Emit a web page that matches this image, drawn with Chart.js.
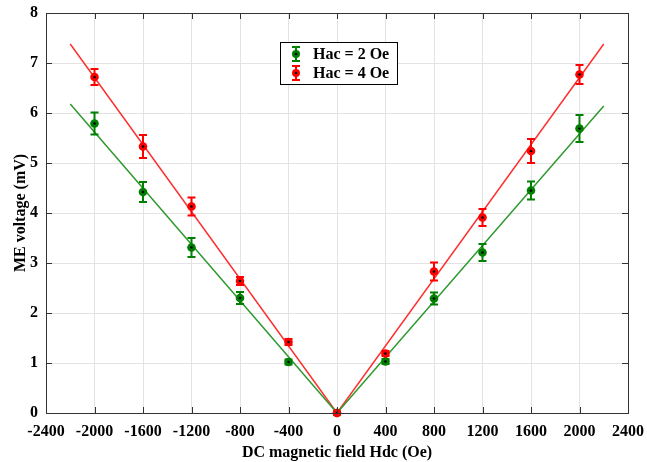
<!DOCTYPE html>
<html>
<head>
<meta charset="utf-8">
<script src="https://cdn.jsdelivr.net/npm/chart.js@4.4.1/dist/chart.umd.min.js"></script>
<style>
  html, body { margin: 0; padding: 0; background: #fff; }
  #wrap { width: 647px; height: 462px; }
</style>
</head>
<body>
<div id="wrap"><canvas id="meChart"></canvas></div>
<script>
// ------------------------------
// Data.
const fieldHdc = [-2000, -1600, -1200, -800, -400, 0, 400, 800, 1200, 1600, 2000];
const hac2Volt = [5.79, 4.42, 3.31, 2.30, 1.02, 0, 1.03, 2.29, 3.21, 4.45, 5.69];
const hac2Err  = [0.22, 0.20, 0.19, 0.12, 0.05, 0.03, 0.05, 0.12, 0.17, 0.18, 0.27];
const hac4Volt = [6.72, 5.33, 4.13, 2.64, 1.42, 0, 1.19, 2.83, 3.91, 5.24, 6.77];
const hac4Err  = [0.16, 0.23, 0.18, 0.08, 0.06, 0.03, 0.05, 0.18, 0.17, 0.24, 0.19];

// Linear fits (V shape)
const fitX = [-2200, 0, 2200];
const fit2Y = [6.18, 0, 6.14];
const fit4Y = [7.38, 0, 7.38];

const xTicks = [-2400, -2000, -1600, -1200, -800, -400, 0, 400, 800, 1200, 1600, 2000, 2400];
const yTicks = [0, 1, 2, 3, 4, 5, 6, 7, 8];

const green = '#008000';
const red = '#ff0000';
const fontFamily = '"Liberation Serif", "Times New Roman", serif';

function toPoints(xs, ys) {
  return xs.map(function(x, i) { return { x: x, y: ys[i] }; });
}

// ------------------------------
// Plugin: error bars, box, inward ticks and legend.
const errorBarPlugin = {
  id: 'errorBarPlugin',
  afterDatasetsDraw: function(chart) {
    const ctx = chart.ctx;
    const yScale = chart.scales.y;
    chart.data.datasets.forEach(function(ds, di) {
      if (!ds.errors) return;
      const meta = chart.getDatasetMeta(di);
      meta.data.forEach(function(pt, i) {
        const v = ds.data[i].y;
        const top = yScale.getPixelForValue(v + ds.errors[i]);
        const bot = yScale.getPixelForValue(v - ds.errors[i]);
        ctx.save();
        ctx.strokeStyle = ds.borderColor;
        ctx.lineWidth = 2;
        ctx.beginPath();
        ctx.moveTo(pt.x, top); ctx.lineTo(pt.x, bot);
        ctx.moveTo(pt.x - 4, top); ctx.lineTo(pt.x + 4, top);
        ctx.moveTo(pt.x - 4, bot); ctx.lineTo(pt.x + 4, bot);
        ctx.stroke();
        ctx.fillStyle = ds.borderColor;
        ctx.beginPath();
        ctx.arc(pt.x, pt.y, 4.3, 0, Math.PI * 2);
        ctx.fill();
        ctx.fillStyle = '#000';
        ctx.beginPath();
        ctx.arc(pt.x, pt.y, 1.3, 0, Math.PI * 2);
        ctx.fill();
        ctx.restore();
      });
    });
  },
  afterDraw: function(chart) {
    const ctx = chart.ctx;
    const a = chart.chartArea;
    const xs = chart.scales.x, ys = chart.scales.y;
    ctx.save();
    ctx.strokeStyle = '#333';
    ctx.lineWidth = 1;
    ctx.strokeRect(Math.round(a.left) + 0.5, Math.round(a.top) + 0.5,
      Math.round(a.right - a.left), Math.round(a.bottom - a.top));
    ctx.beginPath();
    xTicks.forEach(function(t) {
      const px = Math.round(xs.getPixelForValue(t)) + 0.5;
      ctx.moveTo(px, a.bottom); ctx.lineTo(px, a.bottom - 6);
      ctx.moveTo(px, a.top); ctx.lineTo(px, a.top + 6);
    });
    yTicks.forEach(function(t) {
      const py = Math.round(ys.getPixelForValue(t)) + 0.5;
      ctx.moveTo(a.left, py); ctx.lineTo(a.left + 6, py);
      ctx.moveTo(a.right, py); ctx.lineTo(a.right - 6, py);
    });
    ctx.stroke();

    // Legend box
    const lx = 280, ly = 42, lw = 117, lh = 42;
    ctx.fillStyle = '#fff';
    ctx.fillRect(lx, ly, lw, lh);
    ctx.strokeStyle = '#000';
    ctx.strokeRect(lx + 0.5, ly + 0.5, lw, lh);
    const items = [{ c: green, t: 'Hac = 2 Oe', y: 54 }, { c: red, t: 'Hac = 4 Oe', y: 73 }];
    items.forEach(function(it) {
      const cx = 296;
      ctx.strokeStyle = it.c;
      ctx.lineWidth = 2;
      ctx.beginPath();
      ctx.moveTo(cx, it.y - 7); ctx.lineTo(cx, it.y + 7);
      ctx.moveTo(cx - 4, it.y - 7); ctx.lineTo(cx + 4, it.y - 7);
      ctx.moveTo(cx - 4, it.y + 7); ctx.lineTo(cx + 4, it.y + 7);
      ctx.stroke();
      ctx.fillStyle = it.c;
      ctx.beginPath(); ctx.arc(cx, it.y, 4, 0, Math.PI * 2); ctx.fill();
      ctx.fillStyle = '#000';
      ctx.beginPath(); ctx.arc(cx, it.y, 1.3, 0, Math.PI * 2); ctx.fill();
      ctx.font = 'bold 16px ' + fontFamily;
      ctx.textBaseline = 'middle';
      ctx.textAlign = 'left';
      ctx.fillText(it.t, 313, it.y + 1);
    });
    ctx.restore();
  }
};

// ------------------------------
// Build chart.
const ctx = document.getElementById('meChart').getContext('2d');
new Chart(ctx, {
  type: 'scatter',
  data: {
    datasets: [
      {
        label: 'fit 2',
        data: toPoints(fitX, fit2Y),
        showLine: true,
        borderColor: '#2e9a2e',
        borderWidth: 1.5,
        pointRadius: 0
      },
      {
        label: 'fit 4',
        data: toPoints(fitX, fit4Y),
        showLine: true,
        borderColor: '#ff3030',
        borderWidth: 1.5,
        pointRadius: 0
      },
      {
        label: 'Hac = 2 Oe',
        data: toPoints(fieldHdc, hac2Volt),
        errors: hac2Err,
        borderColor: green,
        backgroundColor: green,
        pointRadius: 0
      },
      {
        label: 'Hac = 4 Oe',
        data: toPoints(fieldHdc, hac4Volt),
        errors: hac4Err,
        borderColor: red,
        backgroundColor: red,
        pointRadius: 0
      }
    ]
  },
  options: {
    responsive: true,
    maintainAspectRatio: false,
    animation: false,
    layout: { padding: { top: 13, right: 19, left: 0, bottom: 0 } },
    plugins: {
      legend: { display: false },
      tooltip: { enabled: false }
    },
    scales: {
      x: {
        type: 'linear',
        min: -2400, max: 2400,
        afterBuildTicks: function(scale) { scale.ticks = xTicks.map(function(v) { return { value: v }; }); },
        afterFit: function(scale) {
          scale.height = 49;
          scale.paddingLeft = 0;
          scale.paddingRight = 0;
        },
        grid: { color: '#e3e3e3', drawTicks: false },
        border: { display: false },
        ticks: { color: '#000', padding: 9, maxRotation: 0,
          callback: function(v) { return String(v); },
          font: { family: fontFamily, size: 16, weight: 'bold' } },
        title: { display: true, text: 'DC magnetic field Hdc (Oe)', color: '#000', padding: { top: 2, bottom: 0 },
          font: { family: fontFamily, size: 16, weight: 'bold' } }
      },
      y: {
        type: 'linear',
        min: 0, max: 8,
        afterBuildTicks: function(scale) { scale.ticks = yTicks.map(function(v) { return { value: v }; }); },
        afterFit: function(scale) {
          scale.width = 46;
          scale.paddingTop = 0;
          scale.paddingBottom = 0;
        },
        grid: { color: '#e3e3e3', drawTicks: false },
        border: { display: false },
        ticks: { color: '#000', padding: 8,
          callback: function(v) { return String(v); },
          font: { family: fontFamily, size: 16, weight: 'bold' } },
        title: { display: true, text: 'ME voltage (mV)', color: '#000', padding: { top: 11, bottom: 0 },
          font: { family: fontFamily, size: 16, weight: 'bold' } }
      }
    }
  },
  plugins: [errorBarPlugin]
});
</script>
</body>
</html>
